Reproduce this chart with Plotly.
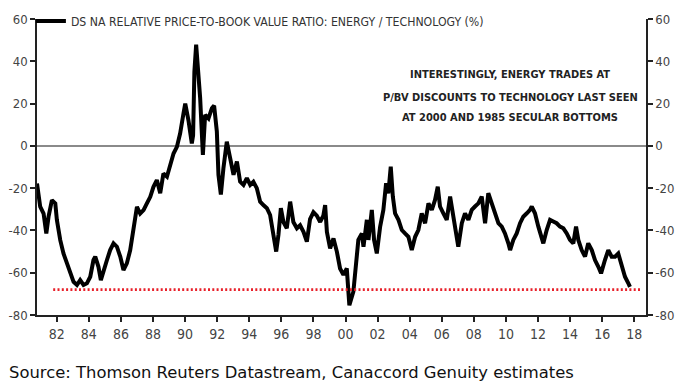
import plotly.graph_objects as go

# ---- data ----
dates = [
    1980.77, 1980.97, 1981.18, 1981.35, 1981.49, 1981.70, 1981.91, 1982.01, 1982.22, 1982.42,
    1982.64, 1982.84, 1983.05, 1983.26, 1983.46, 1983.67, 1983.88, 1984.09, 1984.29, 1984.40,
    1984.60, 1984.75, 1984.92, 1985.13, 1985.33, 1985.54, 1985.75, 1985.96, 1986.16, 1986.37,
    1986.58, 1986.79, 1987.00, 1987.20, 1987.41, 1987.62, 1987.83, 1988.03, 1988.24, 1988.45,
    1988.65, 1988.87, 1989.07, 1989.28, 1989.49, 1989.69, 1989.90, 1990.01, 1990.21, 1990.42,
    1990.50, 1990.58, 1990.69, 1990.83, 1990.94, 1991.11, 1991.25, 1991.46, 1991.67, 1991.81,
    1991.98, 1992.08, 1992.23, 1992.39, 1992.60, 1992.81, 1993.02, 1993.23, 1993.43, 1993.64,
    1993.85, 1994.06, 1994.26, 1994.47, 1994.68, 1994.88, 1995.10, 1995.30, 1995.51, 1995.68,
    1995.82, 1995.97, 1996.13, 1996.34, 1996.55, 1996.75, 1996.97, 1997.17, 1997.38, 1997.59,
    1997.79, 1998.00, 1998.21, 1998.42, 1998.62, 1998.73, 1998.84, 1999.04, 1999.25, 1999.46,
    1999.66, 1999.87, 2000.08, 2000.24, 2000.49, 2000.70, 2000.80, 2001.02, 2001.12, 2001.33,
    2001.43, 2001.64, 2001.78, 2001.95, 2002.16, 2002.36, 2002.53, 2002.67, 2002.82, 2002.95,
    2003.09, 2003.30, 2003.51, 2003.71, 2003.92, 2004.13, 2004.34, 2004.54, 2004.75, 2004.96,
    2005.17, 2005.38, 2005.58, 2005.75, 2005.89, 2006.10, 2006.31, 2006.52, 2006.72, 2006.93,
    2007.03, 2007.25, 2007.45, 2007.66, 2007.87, 2008.07, 2008.28, 2008.49, 2008.70, 2008.90,
    2009.12, 2009.32, 2009.53, 2009.74, 2009.94, 2010.15, 2010.26, 2010.46, 2010.67, 2010.88,
    2011.08, 2011.30, 2011.50, 2011.61, 2011.81, 2012.02, 2012.23, 2012.33, 2012.54, 2012.75,
    2012.95, 2013.16, 2013.37, 2013.58, 2013.79, 2013.99, 2014.20, 2014.37, 2014.51, 2014.72,
    2014.93, 2015.13, 2015.35, 2015.55, 2015.76, 2015.93, 2016.17, 2016.38, 2016.59, 2016.80,
    2017.00, 2017.22, 2017.42, 2017.63, 2017.73,
]
ratio = [
    -17.8, -28.8, -32.0, -41.4, -33.5, -25.7, -27.2, -35.1, -44.6, -50.9,
    -55.6, -60.3, -64.3, -65.8, -63.5, -65.8, -65.0, -61.9, -54.0, -52.4,
    -57.2, -63.5, -58.7, -54.0, -49.3, -46.1, -47.7, -52.4, -58.7, -55.6,
    -49.3, -38.3, -28.8, -32.0, -30.4, -27.2, -24.1, -19.4, -16.2, -22.4,
    -13.1, -14.6, -9.9, -3.6, -0.5, 5.8, 15.3, 20.0, 12.1, 1.1,
    5.0, 35.0, 47.9, 33.6, 22.6, -4.3, 14.7, 13.0, 17.8, 19.0,
    6.8, -13.7, -23.0, -10.6, 2.0, -5.8, -13.7, -7.4, -16.9, -18.5,
    -15.3, -18.5, -17.0, -20.0, -26.4, -28.0, -29.5, -32.7, -42.2, -50.0,
    -42.0, -29.5, -36.0, -39.0, -26.4, -36.0, -39.0, -37.6, -40.7, -45.3,
    -34.6, -31.4, -33.0, -36.0, -33.0, -28.0, -40.7, -48.5, -43.8, -50.0,
    -58.0, -61.0, -58.0, -75.4, -69.0, -51.7, -44.5, -41.4, -47.7, -35.0,
    -44.5, -30.3, -44.5, -50.9, -38.2, -30.3, -17.7, -22.4, -9.8, -24.0,
    -31.9, -35.0, -39.8, -41.4, -43.0, -49.3, -43.0, -39.8, -31.9, -36.6,
    -27.2, -30.3, -25.6, -19.3, -28.7, -31.9, -35.0, -24.0, -33.5, -43.0,
    -47.7, -36.6, -31.9, -35.0, -30.3, -28.7, -27.2, -24.0, -36.6, -22.4,
    -27.2, -31.9, -36.6, -38.2, -41.4, -46.1, -49.3, -44.5, -41.4, -36.6,
    -33.5, -31.9, -30.3, -28.7, -31.9, -38.2, -44.5, -46.1, -39.8, -35.0,
    -35.8, -36.6, -38.2, -39.0, -41.4, -44.5, -46.1, -38.2, -44.5, -49.3,
    -52.4, -46.1, -49.3, -54.0, -57.2, -60.3, -54.0, -49.3, -52.4, -52.4,
    -50.9, -57.2, -61.9, -65.0, -66.7,
]
series_name = "DS NA RELATIVE PRICE-TO-BOOK VALUE RATIO: ENERGY / TECHNOLOGY (%)"

# red dotted reference level (prior secular bottoms)
bottom_level = -68
bottom_span = [1981.78, 2018.36]

x_tickvals = [1982, 1984, 1986, 1988, 1990, 1992, 1994, 1996, 1998, 2000,
              2002, 2004, 2006, 2008, 2010, 2012, 2014, 2016, 2018]
x_ticktext = ["82", "84", "86", "88", "90", "92", "94", "96", "98", "00",
              "02", "04", "06", "08", "10", "12", "14", "16", "18"]
y_tickvals = [-80, -60, -40, -20, 0, 20, 40, 60]
y_ticktext = ["-80", "-60", "-40", "-20", "0", "20", "40", "60"]

note_lines = [
    "INTERESTINGLY, ENERGY TRADES AT",
    "P/BV DISCOUNTS TO TECHNOLOGY LAST SEEN",
    "AT 2000 AND 1985 SECULAR BOTTOMS",
]
source_text = "Source: Thomson Reuters Datastream, Canaccord Genuity estimates"

NARROW = "Liberation Sans Narrow, Arial Narrow, DejaVu Sans Condensed, sans-serif"

fig = go.Figure()
fig.add_trace(go.Scatter(
    x=dates, y=ratio, mode="lines", name=series_name,
    line=dict(color="#000000", width=4),
))
fig.add_trace(go.Scatter(
    x=bottom_span, y=[bottom_level, bottom_level], mode="lines",
    line=dict(color="#e8202a", width=2.6, dash="2px,2.3px"),
    showlegend=False, yaxis="y2",
))

axis_font = dict(family=NARROW, size=13, color="#444444")
common_y = dict(
    range=[-80, 60], tickvals=y_tickvals, ticktext=y_ticktext,
    showgrid=False, showline=True, linecolor="#222222", linewidth=1.5,
    ticks="outside", ticklen=5, tickcolor="#222222", tickwidth=1.5,
    tickfont=axis_font, fixedrange=True,
)

fig.update_layout(
    width=690, height=391,
    margin=dict(l=37, r=44, t=19, b=76, autoexpand=False),
    paper_bgcolor="white", plot_bgcolor="white",
    xaxis=dict(
        range=[1980.77, 2018.73], tickvals=x_tickvals, ticktext=x_ticktext,
        showgrid=False, showline=True, linecolor="#222222", linewidth=2,
        ticks="outside", ticklen=5, tickcolor="#222222", tickwidth=1.5,
        tickfont=dict(family=NARROW, size=14, color="#444444"), zeroline=False,
    ),
    yaxis=dict(**common_y, zeroline=True, zerolinecolor="#8a8a8a", zerolinewidth=1.6),
    yaxis2=dict(**common_y, overlaying="y", side="right", anchor="x", zeroline=False),
    showlegend=True,
    legend=dict(
        x=-0.010, y=0.993, xanchor="left", yanchor="middle",
        font=dict(family=NARROW, size=12.2, color="#333333"),
        bgcolor="rgba(0,0,0,0)", borderwidth=0, itemwidth=30,
    ),
)

note_y = [0.811, 0.736, 0.666]
for txt, yy in zip(note_lines, note_y):
    fig.add_annotation(
        text="<b>" + txt + "</b>", x=0.777, y=yy, xref="paper", yref="paper",
        xanchor="center", yanchor="middle", showarrow=False,
        font=dict(family=NARROW, size=11, color="#222222"),
    )

fig.add_annotation(
    text=source_text, x=-0.049, y=-0.193, xref="paper", yref="paper",
    xanchor="left", yanchor="middle", showarrow=False,
    font=dict(family="DejaVu Sans, Verdana, sans-serif", size=16.4, color="#111111"),
)

fig.write_html(
    "out.html",
    config={"displayModeBar": False},
    post_script="document.body.style.margin='0';",
)
